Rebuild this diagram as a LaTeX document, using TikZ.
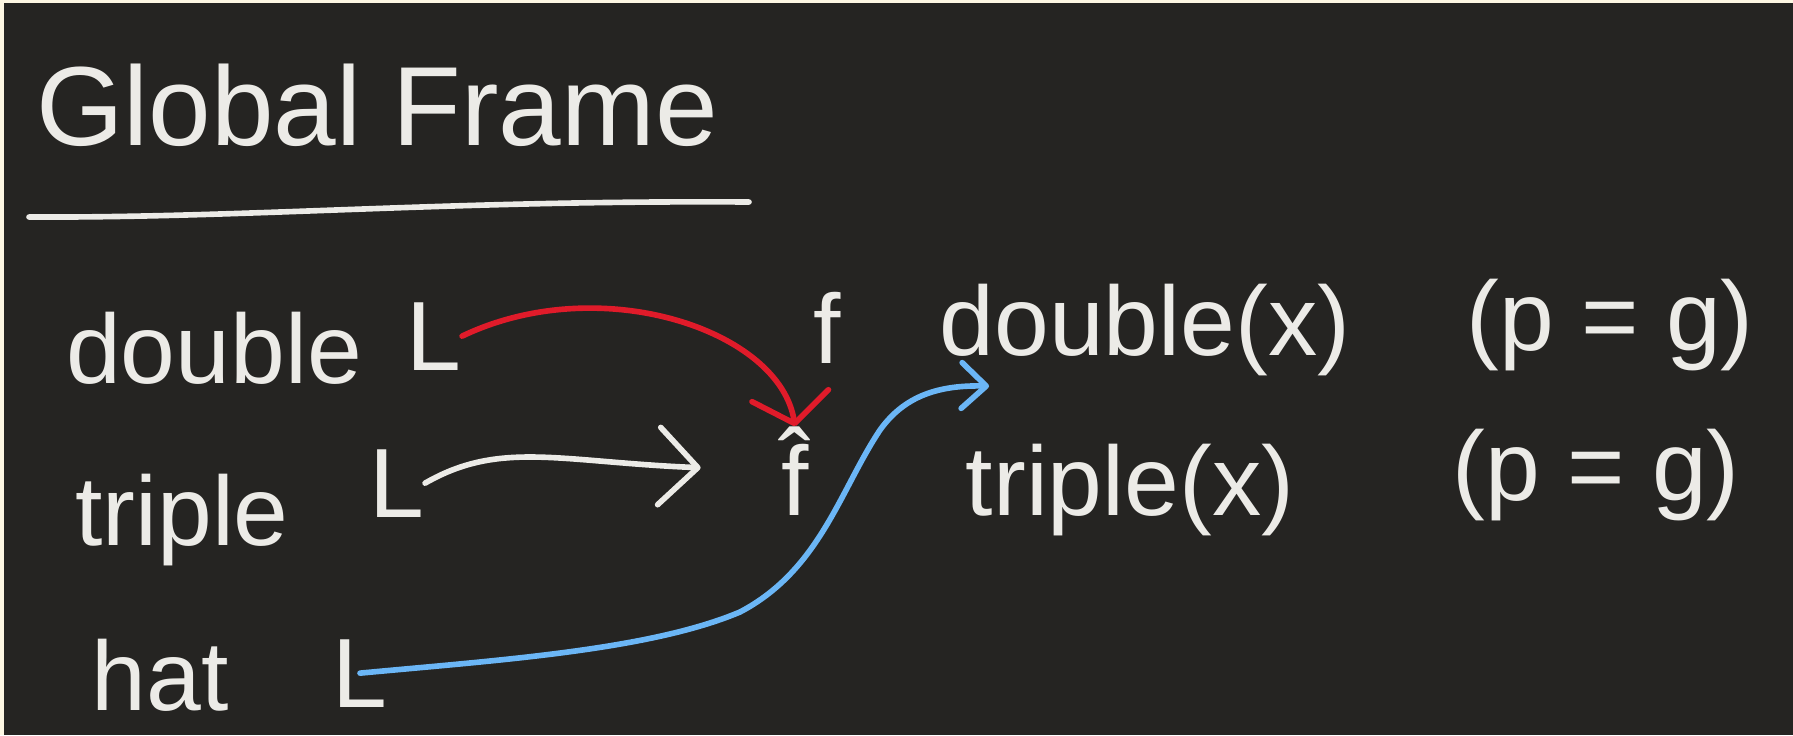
\documentclass[tikz,border=0pt]{standalone}
\usepackage{fontspec}
\setmainfont{Liberation Sans}
\usetikzlibrary{arrows.meta}
\definecolor{board}{HTML}{252422}
\definecolor{paper}{HTML}{FDF7E3}
\definecolor{chalk}{HTML}{ECEBE7}
\definecolor{inkred}{HTML}{E01B2A}
\definecolor{inkblue}{HTML}{6BB6F6}
\begin{document}
\begin{tikzpicture}[
    x=0.01cm, y=-0.01cm,
    word/.style={text=chalk, inner sep=0pt, anchor=base, font=\fontsize{28}{34}\selectfont},
    heading/.style={word, font=\fontsize{32}{38}\selectfont},
    chalkline/.style={draw=chalk, line width=1.6pt, line cap=round},
    whitearrow/.style={chalkline, -{Straight Barb[length=11pt,width=22pt,round]}},
    redarrow/.style={draw=inkred, line width=1.6pt, line cap=round, -{Straight Barb[length=8pt,width=22pt,round]}},
    bluearrow/.style={draw=inkblue, line width=1.6pt, line cap=round, -{Straight Barb[length=7pt,width=13pt,round]}},
]
    % board
    \fill[paper] (0,0) rectangle (1793,735);
    \fill[board] (4,3) rectangle (1793,735);

    \node[heading] (title) at (377,145) {Global Frame};
    \draw[chalkline] (29,217) .. controls (250,218) and (450,200) .. (749,202);

    % left column
    \node[word] (dbl)  at (214,383) {double};
    \node[word] (dblL) at (434,370) {L};
    \node[word] (trp)  at (182,545) {triple};
    \node[word] (trpL) at (397,517) {L};
    \node[word] (hat)  at (160,710) {hat};
    \node[word] (hatL) at (360,707) {L};

    % middle
    \node[word] (f)    at (827,363) {f};
    \node[word] (fhat) at (795,515) {\^{f}};

    % right column
    \node[word] (dblx) at (1145,355) {double(x)};
    \node[word] (dblp) at (1610,350) {(p = g)};
    \node[word] (trpx) at (1130,515) {triple(x)};
    \node[word] (trpp) at (1596,500) {(p = g)};

    \draw[redarrow] (dblL.east) .. controls (600,270) and (780,330) .. (fhat.north);
    \draw[whitearrow, shorten >=8mm] (trpL.east) .. controls (500,440) and (560,462) .. (fhat.west);
    \draw[bluearrow] (hatL.center) .. controls (500,660) and (650,650) .. (740,612)
        .. controls (820,570) and (840,490) .. (880,430)
        .. controls (905,395) and (940,385) .. ([xshift=5mm,yshift=-1mm]dblx.south west);
\end{tikzpicture}
\end{document}
